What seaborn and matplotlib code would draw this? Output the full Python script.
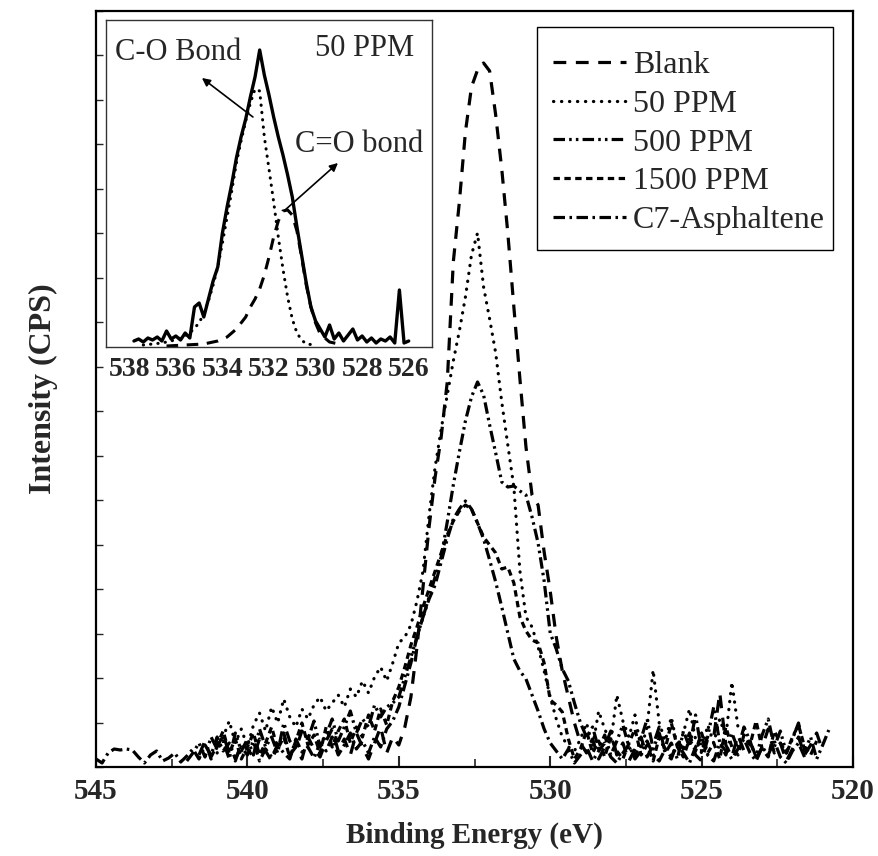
import numpy as np
import pandas as pd
import matplotlib
matplotlib.use("Agg")
import matplotlib.pyplot as plt
from matplotlib.patches import Rectangle
from matplotlib.ticker import MultipleLocator, NullFormatter
import seaborn as sns

sns.set_style("ticks")
plt.rcParams['font.family'] = ['Liberation Serif', 'DejaVu Serif']

# ---------------- data (main panel) ----------------
E_START, E_STEP, N_POINTS = 545.0, 0.2, 122
energy = [round(E_START - E_STEP * i, 1) for i in range(N_POINTS)]

blank = [None] * 17 + [
    12, 26, 8,
    20, 32, 14, 6, 24, 18, 10, 28, 16, 6,
    22, 34, 12, 20, 8, 30, 18, 10, 26, 38,
    16, 28, 12, 34, 20, 8, 24, 40, 14, 30,
    22, 40, 70, 120, 180, 240, 290, 330, 385, 505,
    565, 635, 680, 697, 704, 696, 652, 598, 534, 460,
    388, 320, 272, 262, 215, 176, 130, 96, 70, 44,
    24, 14, 28, 8, 20, 36, 12, 24, 6, 18,
    30, 10, 22, 40, 14, 8, 26, 18, 34, 12,
    6, 28, 30, 74, 22, 10, 32, 16, 26, 8,
    20, 38, 14, 24, 6, 18, 30, 12, 22, 34,
    16] + [None] * 1

ppm50 = [None] * 20 + [
    14, 30, 46, 24, 38, 20, 42, 54, 36, 60,
    44, 68, 50, 40, 58, 48, 62, 70, 56, 64,
    72, 60, 78, 70, 86, 74, 90, 100, 86, 104,
    124, 130, 142, 166, 196, 252, 300, 338, 372, 406,
    436, 470, 512, 534, 480, 448, 414, 365, 322, 280,
    196, 150, 140, 120, 96, 70, 48, 30, 20, 16,
    28, 44, 20, 56, 38, 24, 72, 46, 30, 52,
    18, 40, 97, 44, 26, 50, 20, 34, 58, 28,
    14, 42, 24, 48, 30, 85, 40] + [None] * 15

ppm500 = [None] * 15 + [
    6, 14, 24, 10, 30,
    18, 26, 8, 34, 16, 28, 12, 38, 20, 30,
    14, 44, 26, 18, 36, 28, 46, 20, 32, 48,
    26, 40, 56, 34, 48, 40, 62, 50, 60, 64,
    70, 90, 110, 130, 150, 170, 190, 210, 245, 282,
    315, 346, 370, 385, 372, 342, 314, 285, 280, 281,
    276, 272, 250, 224, 186, 134, 118, 98, 86, 64,
    44, 30, 40, 18, 32, 12, 26, 42, 20, 10,
    28, 48, 18, 34, 14, 24, 8, 36, 20, 52,
    16, 30, 60, 24, 12, 34, 18, 40, 26, 10,
    32, 48, 20, 36, 14, 28, 44, 16, 30, 8,
    22, 37]

ppm1500 = [None] * 19 + [
    10, 22, 36, 14, 28, 8, 20, 34, 12, 24,
    40, 18, 30, 10, 26, 44, 22, 32, 14, 40,
    20, 36, 48, 24, 40, 30, 52, 36, 58, 42,
    66, 80, 100, 122, 140, 160, 178, 196, 214, 232,
    246, 256, 262, 258, 244, 230, 222, 214, 198, 200,
    184, 150, 136, 127, 124, 104, 67, 62, 55, 28,
    8, 18, 36, 14, 26, 10, 30, 16, 8, 24,
    38, 12, 22, 6, 30, 18, 44, 20, 10, 28,
    16, 34, 14, 24, 8, 40, 20, 12, 32, 22,
    46, 18, 10, 36, 24, 14, 30, 42, 20, 12,
    26] + [None] * 2

c7_asph = [
    8, 4, 14, 18, 17, 18, 17, 10, 4, 12,
    16, 6, 9, 14, 5, 11, 18, 8, 22, 12,
    30, 16, 24, 8, 20, 12, 26, 6, 18, 10,
    22, 14, 8, 28, 15, 20, 9, 24, 16, 30,
    12, 22, 34, 18, 26, 14, 30, 20, 38, 46,
    60, 82, 104, 130, 150, 168, 182, 205, 228, 248,
    258, 266, 258, 244, 228, 207, 185, 160, 134, 108,
    96, 88, 72, 56, 38, 24, 16, 8, 18, 4,
    12, 20, 6, 16, 24, 10, 4, 14, 22, 8,
    16, 26, 12, 6, 18, 10, 22, 14, 4, 20,
    30, 12, 6, 24, 16, 8, 18, 28, 14, 6,
    20, 12, 26, 10, 4, 16, 24, 10] + [None] * 4

series_names = ["Blank", "50 PPM", "500 PPM", "1500 PPM", "C7-Asphaltene"]
series_values = [blank, ppm50, ppm500, ppm1500, c7_asph]

# ---------------- data (inset, 50 PPM fit) ----------------
inset_total_energy = [537.8, 537.6, 537.4, 537.2, 537.0, 536.8, 536.6, 536.4, 536.2, 536.0,
                      535.8, 535.6, 535.4, 535.2, 535.0, 534.8, 534.6, 534.4, 534.2, 534.0,
                      533.8, 533.6, 533.4, 533.2, 533.0, 532.8, 532.6, 532.4, 532.2, 532.0,
                      531.8, 531.6, 531.4, 531.2, 531.0, 530.8, 530.6, 530.4, 530.2, 530.0,
                      529.8, 529.6, 529.4, 529.2, 529.0, 528.8, 528.6, 528.4, 528.2, 528.0,
                      527.8, 527.6, 527.4, 527.2, 527.0, 526.8, 526.6, 526.4, 526.2, 526.0]
inset_total = [6, 8, 5, 9, 7, 10, 6, 16, 8, 11,
               7, 14, 9, 40, 44, 30, 48, 66, 80, 114,
               140, 163, 189, 210, 228, 250, 270, 297, 272, 252,
               230, 210, 192, 172, 150, 120, 92, 64, 40, 26,
               18, 10, 22, 8, 14, 6, 12, 18, 7, 11,
               5, 9, 4, 8, 6, 10, 4, 57, 4, 6]

inset_co_energy = [537.4, 537.0, 536.6, 536.2, 535.8, 535.4, 535.0, 534.8, 534.6, 534.4,
                   534.2, 534.0, 533.8, 533.6, 533.4, 533.2, 533.0, 532.8, 532.6, 532.4,
                   532.2, 532.0, 531.8, 531.6, 531.4, 531.2, 531.0, 530.8, 530.6, 530.4, 530.0]
inset_co = [2, 3, 4, 6, 9, 14, 24, 34, 46, 62,
            80, 104, 130, 156, 184, 206, 226, 244, 258, 256,
            210, 178, 145, 110, 78, 50, 28, 14, 7, 3, 2]

inset_c_o_energy = [536.4, 535.6, 534.8, 534.2, 533.8, 533.4, 533.0, 532.8, 532.6, 532.4,
                    532.2, 532.0, 531.8, 531.6, 531.4, 531.2, 531.0, 530.8, 530.6, 530.4,
                    530.2, 530.0, 529.8, 529.4, 528.8]
inset_c_o = [1, 2, 3, 6, 10, 18, 30, 40, 48, 58,
             72, 90, 110, 126, 136, 137, 132, 116, 90, 62,
             40, 24, 13, 5, 2]

# ---------------- figure ----------------
W, H = 879, 856
AX_L, AX_R, AX_T, AX_B = 96, 853, 11, 767
fig = plt.figure(figsize=(W / 100, H / 100), dpi=100)
ax = fig.add_axes([AX_L / W, 1 - AX_B / H, (AX_R - AX_L) / W, (AX_B - AX_T) / H])


def px_to_axes(x, y):
    return (x - AX_L) / (AX_R - AX_L), (AX_B - y) / (AX_B - AX_T)


LW = 2.3
patterns = {
    "Blank": ((0, (4.0, 3.0)), "butt"),
    "50 PPM": ((0, (0.1, 2.4)), "round"),
    "500 PPM": ((0, (3.6, 1.3, 0.8, 1.3, 0.8, 1.3)), "butt"),
    "1500 PPM": ((0, (2.0, 1.4)), "butt"),
    "C7-Asphaltene": ((0, (3.6, 1.4, 0.8, 1.4)), "butt"),
}

for name, vals in zip(series_names, series_values):
    d = pd.DataFrame({"Energy": energy, "Intensity": vals}).dropna()
    ls, cap = patterns[name]
    sns.lineplot(data=d, x="Energy", y="Intensity", ax=ax, color="black",
                 linewidth=LW, linestyle=ls, dash_capstyle=cap,
                 errorbar=None, sort=False, label=name, legend=False)

ax.set_xlim(545, 520)
ax.set_ylim(0, 756)
ax.set_xticks([545, 540, 535, 530, 525, 520])
ax.xaxis.set_minor_locator(MultipleLocator(2.5))
ax.set_yticks(np.linspace(0, 756, 18))
ax.yaxis.set_major_formatter(NullFormatter())
ax.tick_params(axis="x", which="major", direction="in", length=8, width=1.5,
               labelsize=21, pad=8, top=False)
ax.tick_params(axis="x", which="minor", direction="in", length=6, width=1.2, top=False)
ax.tick_params(axis="y", which="major", direction="in", length=5, width=1.0, right=False)
for lbl in ax.get_xticklabels():
    lbl.set_fontweight("bold")
for s in ax.spines.values():
    s.set_linewidth(1.6)
    s.set_color("black")

ax.set_xlabel("Binding Energy (eV)", fontsize=21, fontweight="bold", labelpad=12)
ax.set_ylabel("Intensity (CPS)", fontsize=23, fontweight="bold", labelpad=24)

# legend: frame drawn as a rectangle, entries placed inside it
x0, y0 = px_to_axes(537, 250)
x1, y1 = px_to_axes(833, 27)
ax.add_patch(Rectangle((x0, y0), x1 - x0, y1 - y0, transform=ax.transAxes,
                       facecolor="white", edgecolor="black", linewidth=1.0, zorder=4))
handles = ax.get_lines()[:5]
leg = ax.legend(handles, series_names, loc="upper left",
                bbox_to_anchor=px_to_axes(553, 51),
                borderaxespad=0, borderpad=0, frameon=False,
                fontsize=23, handlelength=2.3, handletextpad=0.2,
                labelspacing=0.29)
leg.set_zorder(5)

# ---------------- inset ----------------
axin = fig.add_axes([106 / W, 1 - 347 / H, (432 - 106) / W, (347 - 20) / H])
axin.set_facecolor("white")
d_tot = pd.DataFrame({"Energy": inset_total_energy, "Intensity": inset_total})
d_co = pd.DataFrame({"Energy": inset_co_energy, "Intensity": inset_co})
d_c_o = pd.DataFrame({"Energy": inset_c_o_energy, "Intensity": inset_c_o})
sns.lineplot(data=d_co, x="Energy", y="Intensity", ax=axin, color="black", linewidth=2.2,
             linestyle=(0, (0.1, 2.3)), dash_capstyle="round", errorbar=None, sort=False)
sns.lineplot(data=d_c_o, x="Energy", y="Intensity", ax=axin, color="black", linewidth=2.2,
             linestyle=(0, (3.8, 2.8)), errorbar=None, sort=False)
sns.lineplot(data=d_tot, x="Energy", y="Intensity", ax=axin, color="black", linewidth=2.4,
             errorbar=None, sort=False)
axin.set_xlim(539, 525)
axin.set_ylim(0, 327)
axin.set_xticks([538, 536, 534, 532, 530, 528, 526])
axin.set_yticks([])
axin.set_xlabel("")
axin.set_ylabel("")
axin.tick_params(axis="x", direction="in", length=0, labelsize=20, pad=7)
for lbl in axin.get_xticklabels():
    lbl.set_fontweight("bold")
for s in axin.spines.values():
    s.set_linewidth(1.0)
    s.set_color("#333333")

axin.text(538.6, 295, "C-O Bond", fontsize=22, ha="left", va="center")
axin.text(530.9, 202, "C=O bond", fontsize=22, ha="left", va="center")
axin.text(527.9, 299, "50 PPM", fontsize=22, ha="center", va="center")
arrow_kw = dict(arrowstyle="-|>", color="black", lw=1.2, mutation_scale=12,
                shrinkA=0, shrinkB=0)
axin.annotate("", xy=(534.88, 269), xytext=(532.69, 230), arrowprops=arrow_kw)
axin.annotate("", xy=(529.04, 184), xytext=(531.31, 137), arrowprops=arrow_kw)

fig.savefig("out.png", dpi=100)
